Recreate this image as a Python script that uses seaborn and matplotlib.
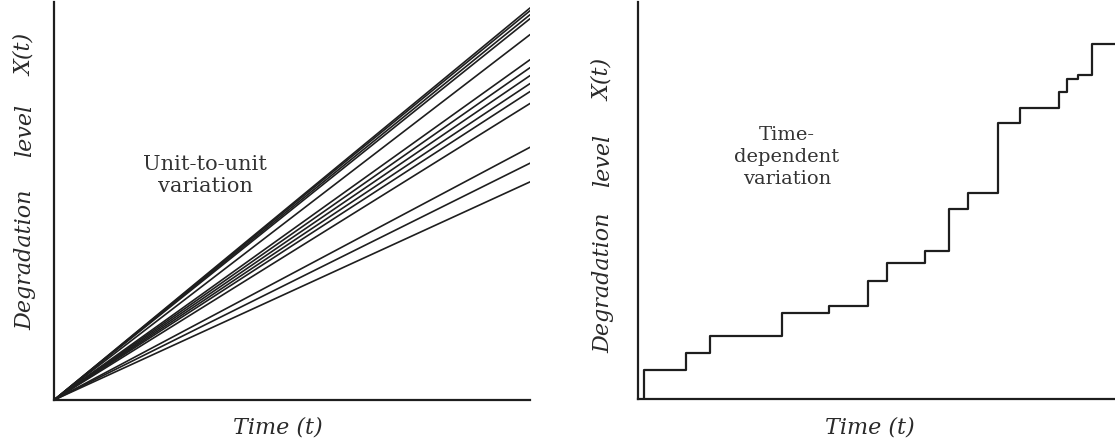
import numpy as np
import pandas as pd
import matplotlib
matplotlib.use("Agg")
import matplotlib.pyplot as plt
import seaborn as sns

# ---- data (normalised units) ----
unit_ids = list(range(14))
unit_end_levels = [0.985, 0.978, 0.968, 0.958, 0.918, 0.855, 0.835,
                   0.815, 0.795, 0.775, 0.745, 0.635, 0.595, 0.548]
time_span = [0.0, 1.0]

step_times = [1.3, 1.3, 10.1, 15.1, 30.2, 40.0, 48.2, 52.2, 60.2,
              65.2, 69.2, 75.5, 80.1, 88.3, 89.9, 92.2, 95.2, 100.0]
step_levels = [0.0, 7.3, 11.5, 15.8, 21.6, 23.3, 29.6, 34.3, 37.3,
               47.9, 51.9, 69.4, 73.4, 77.4, 80.5, 81.7, 89.5, 89.5]

sns.set_theme(style="white")
plt.rcParams["font.family"] = ["DejaVu Serif"]

fig = plt.figure(figsize=(11.15, 4.48), dpi=100)
ax1 = fig.add_axes([54/1115, 48/448, (530-54)/1115, 398/448])
ax2 = fig.add_axes([638/1115, 49/448, (1115-638)/1115, 397/448])

ink = "#1e1e1e"

# left panel: unit-to-unit variation (straight lines from origin)
rows = []
for u, lv in zip(unit_ids, unit_end_levels):
    for t in time_span:
        rows.append({"unit": u, "t": t, "x": lv * t})
df1 = pd.DataFrame(rows)
sns.lineplot(data=df1, x="t", y="x", units="unit", estimator=None,
             color=ink, lw=1.2, ax=ax1)
ax1.set_xlim(0, 1)
ax1.set_ylim(0, 1)

# right panel: time-dependent variation (step path)
df2 = pd.DataFrame({"t": step_times, "x": step_levels})
sns.lineplot(data=df2, x="t", y="x", estimator=None, sort=False,
             drawstyle="steps-post", color=ink, lw=1.6, ax=ax2)
ax2.set_xlim(0, 100)
ax2.set_ylim(0, 100)

for ax in (ax1, ax2):
    ax.set_xticks([])
    ax.set_yticks([])
    ax.set_xlabel("")
    ax.set_ylabel("")
    for s in ("top", "right"):
        ax.spines[s].set_visible(False)
    for s in ("left", "bottom"):
        ax.spines[s].set_color(ink)
        ax.spines[s].set_linewidth(1.6)

lab = dict(color="#2a2a2a", fontsize=16, style="italic",
           family=["DejaVu Serif"])
W, H = 1115, 448
def ftext(x, y, s, **kw):
    fig.text(x / W, 1 - y / H, s, ha="center", va="center", **kw)

# y labels
for xc, yd, yl, yx in ((25, 260, 130, 55), (603, 283, 160, 80)):
    ftext(xc, yd, "Degradation", rotation=90, **lab)
    ftext(xc, yl, "level", rotation=90, **lab)
    ftext(xc, yx, "X(t)", rotation=90, **lab)

# x labels
ftext(278, 427, "Time (t)", **lab)
ftext(870, 427, "Time (t)", **lab)

ftext(205, 175, "Unit-to-unit\nvariation", color="#333333", fontsize=15,
      family=["DejaVu Serif"], linespacing=1.2)
ftext(787, 157, "Time-\ndependent\nvariation", color="#333333", fontsize=14,
      family=["DejaVu Serif"], linespacing=1.3)

fig.savefig("out.png", dpi=100, facecolor="white")
